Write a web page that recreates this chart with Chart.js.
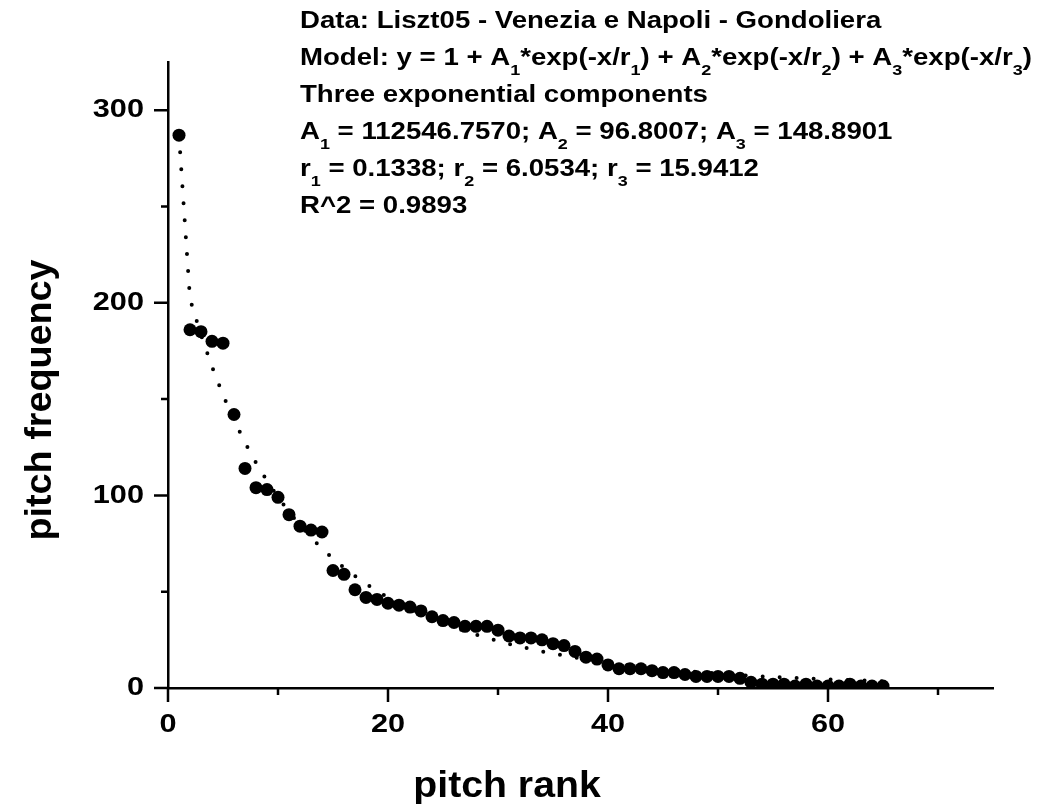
<!DOCTYPE html>
<html>
<head>
    <title>Liszt05 - Gondoliera pitch rank</title>
    <script src="https://cdn.jsdelivr.net/npm/chart.js"></script>
    <style>
        html, body { margin: 0; padding: 0; background: #fff; }
        .chart-container { width: 1039px; height: 804px; }
    </style>
</head>
<body>
    <div class="chart-container">
        <canvas id="myChart"></canvas>
    </div>

    <script>
        // pitch rank (x) and measured pitch frequency (y)
        var ranks = [1, 2, 3, 4, 5, 6, 7, 8, 9, 10, 11, 12, 13, 14, 15, 16, 17, 18, 19, 20,
                     21, 22, 23, 24, 25, 26, 27, 28, 29, 30, 31, 32, 33, 34, 35, 36, 37, 38, 39, 40,
                     41, 42, 43, 44, 45, 46, 47, 48, 49, 50, 51, 52, 53, 54, 55, 56, 57, 58, 59, 60,
                     61, 62, 63, 64, 65];
        var freq = [287, 186, 185, 180, 179, 142, 114, 104, 103, 99, 90, 84, 82, 81, 61, 59, 51, 47, 46, 44,
                    43, 42, 40, 37, 35, 34, 32, 32, 32, 30, 27, 26, 26, 25, 23, 22, 19, 16, 15, 12,
                    10, 10, 10, 9, 8, 8, 7, 6, 6, 6, 6, 5, 3, 2, 2, 2, 1, 2, 1, 1,
                    1, 2, 1, 1, 1];
        // fitted curve read at each rank (dotted line)
        var fitFreq = [286.9, 201.9, 183.3, 166.8, 152.2, 139.1, 127.4, 117.0, 107.6, 99.1,
                       91.4, 84.5, 78.2, 72.5, 67.2, 62.5, 58.1, 54.1, 50.4, 47.0,
                       43.9, 41.0, 38.4, 35.9, 33.6, 31.5, 29.5, 27.7, 26.0, 24.4,
                       22.9, 21.5, 20.2, 19.0, 17.9, 16.8, 15.8, 14.9, 14.1, 13.2,
                       12.5, 11.8, 11.1, 10.5, 9.9, 9.4, 8.9, 8.4, 7.9, 7.5,
                       7.1, 6.7, 6.4, 6.0, 5.7, 5.4, 5.2, 4.9, 4.7, 4.5,
                       4.2, 4.1, 3.9, 3.7, 3.5];

        // axis tick values and which of them carry labels
        var xTicks = [0, 10, 20, 30, 40, 50, 60, 70];
        var xLabels = [0, 20, 40, 60];
        var yTicks = [0, 50, 100, 150, 200, 250, 300];
        var yLabels = [0, 100, 200, 300];

        var xTitle = 'pitch rank';
        var yTitle = 'pitch frequency';

        // annotation lines, each a list of [text, subscript?]
        var noteLines = [
            [['Data: Liszt05 - Venezia e Napoli - Gondoliera', false]],
            [['Model: y = 1 + A', false], ['1', true], ['*exp(-x/r', false], ['1', true], [') + A', false], ['2', true],
             ['*exp(-x/r', false], ['2', true], [') + A', false], ['3', true], ['*exp(-x/r', false], ['3', true], [')', false]],
            [['Three exponential components', false]],
            [['A', false], ['1', true], [' = 112546.7570; A', false], ['2', true], [' = 96.8007; A', false], ['3', true], [' = 148.8901', false]],
            [['r', false], ['1', true], [' = 0.1338; r', false], ['2', true], [' = 6.0534; r', false], ['3', true], [' = 15.9412', false]],
            [['R^2 = 0.9893', false]]
        ];

        var FONT = '"Liberation Sans", Arial, sans-serif';
        var WIDE = 1.18; // the source text is a bit wider than Arial
        var NOTE_WIDE = 1.2;

        function wideText(ctx, text, x, y, sx) {
            ctx.save();
            ctx.translate(x, y);
            ctx.scale(sx, 1);
            ctx.fillText(text, 0, 0);
            ctx.restore();
        }

        var extras = {
            id: 'extras',
            afterDraw: function (chart) {
                var ctx = chart.ctx;
                var x = chart.scales.x, y = chart.scales.y;
                ctx.save();

                // tick marks, long for labelled values
                ctx.strokeStyle = '#000';
                ctx.lineWidth = 2.5;
                ctx.beginPath();
                xTicks.forEach(function (v) {
                    var px = x.getPixelForValue(v);
                    var len = xLabels.indexOf(v) >= 0 ? 14 : 7;
                    ctx.moveTo(px, y.bottom);
                    ctx.lineTo(px, y.bottom + len);
                });
                yTicks.forEach(function (v) {
                    var py = y.getPixelForValue(v);
                    var len = yLabels.indexOf(v) >= 0 ? 14 : 7;
                    ctx.moveTo(x.left, py);
                    ctx.lineTo(x.left - len, py);
                });
                ctx.stroke();

                // tick labels
                ctx.fillStyle = '#000';
                ctx.font = 'bold 26px ' + FONT;
                ctx.textBaseline = 'middle';
                ctx.textAlign = 'center';
                xLabels.forEach(function (v) {
                    wideText(ctx, String(v), x.getPixelForValue(v), y.bottom + 37, WIDE);
                });
                ctx.textAlign = 'right';
                yLabels.forEach(function (v) {
                    wideText(ctx, String(v), x.left - 24, y.getPixelForValue(v), WIDE);
                });

                // axis titles
                ctx.font = 'bold 37px ' + FONT;
                ctx.textAlign = 'center';
                ctx.textBaseline = 'alphabetic';
                wideText(ctx, xTitle, 507, 797, 1.06);
                ctx.save();
                ctx.translate(51, 400);
                ctx.rotate(-Math.PI / 2);
                wideText(ctx, yTitle, 0, 0, 1.02);
                ctx.restore();

                // model annotation
                ctx.textAlign = 'left';
                noteLines.forEach(function (line, i) {
                    var cx = 300;
                    var base = 28 + i * 37;
                    line.forEach(function (seg) {
                        ctx.font = seg[1] ? 'bold 15px ' + FONT : 'bold 23px ' + FONT;
                        wideText(ctx, seg[0], cx, seg[1] ? base + 10 : base, NOTE_WIDE);
                        cx += ctx.measureText(seg[0]).width * NOTE_WIDE;
                    });
                });
                ctx.restore();
            }
        };

        var ctx = document.getElementById('myChart').getContext('2d');
        var myChart = new Chart(ctx, {
            type: 'scatter',
            data: {
                datasets: [
                    {
                        label: 'data',
                        data: ranks.map((r, i) => ({ x: r, y: freq[i] })),
                        backgroundColor: '#000',
                        borderWidth: 0,
                        pointRadius: 6.5,
                        pointHoverRadius: 6.5,
                        clip: { left: 10, top: 10, right: 10, bottom: 0 }
                    },
                    {
                        label: 'fit',
                        data: ranks.map((r, i) => ({ x: r, y: fitFreq[i] })),
                        showLine: true,
                        pointRadius: 0,
                        borderColor: '#000',
                        borderWidth: 4,
                        borderCapStyle: 'round',
                        borderDash: [0, 17],
                        fill: false,
                        tension: 0
                    }
                ]
            },
            options: {
                responsive: true,
                maintainAspectRatio: false,
                animation: false,
                events: [],
                layout: { padding: { left: 0, top: 62, right: 46, bottom: 0 } },
                plugins: {
                    legend: { display: false },
                    tooltip: { enabled: false }
                },
                scales: {
                    x: {
                        type: 'linear',
                        position: 'bottom',
                        min: 0,
                        max: 75,
                        grid: { display: false },
                        border: { display: true, color: '#000', width: 2.5 },
                        afterFit: function (scale) { scale.height = 116; },
                        ticks: { display: false, stepSize: 10, includeBounds: false }
                    },
                    y: {
                        min: 0,
                        max: 325,
                        grid: { display: false },
                        border: { display: true, color: '#000', width: 2.5 },
                        afterFit: function (scale) { scale.width = 168; },
                        ticks: { display: false, stepSize: 50, includeBounds: false }
                    }
                }
            },
            plugins: [extras]
        });
    </script>
</body>
</html>
